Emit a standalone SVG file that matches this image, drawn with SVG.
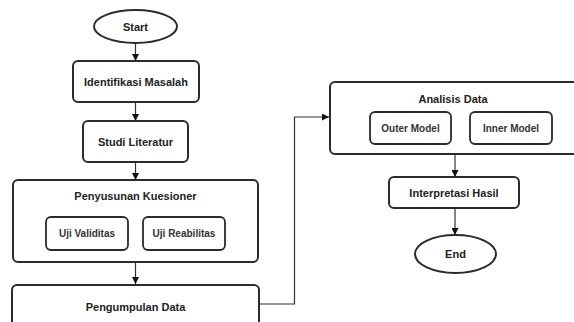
<svg xmlns="http://www.w3.org/2000/svg" width="574" height="322" viewBox="0 0 574 322">
<defs>
<style>
.n{fill:#fff;stroke:#2b2b2b;stroke-width:2}
.s{fill:#fff;stroke:#2b2b2b;stroke-width:1.8}
.t{font-family:"Liberation Sans",Arial,sans-serif;font-weight:bold;font-size:11px;fill:#222;text-anchor:middle}
.ts{font-family:"Liberation Sans",Arial,sans-serif;font-weight:bold;font-size:10px;fill:#333;text-anchor:middle}
.c{fill:none;stroke:#333;stroke-width:1.2}
</style>
<marker id="a" viewBox="0 0 10 10" refX="10" refY="5" markerWidth="7" markerHeight="7" markerUnits="userSpaceOnUse" orient="auto">
<path d="M0,0 L10,5 L0,10 z" fill="#111"/>
</marker>
</defs>
<rect width="574" height="322" fill="#fff"/>
<g id="connectors">
<line class="c" x1="135.5" y1="43" x2="135.5" y2="61" marker-end="url(#a)"/>
<line class="c" x1="135.5" y1="102" x2="135.5" y2="121" marker-end="url(#a)"/>
<line class="c" x1="135.5" y1="162" x2="135.5" y2="180" marker-end="url(#a)"/>
<line class="c" x1="135.5" y1="262" x2="135.5" y2="284" marker-end="url(#a)"/>
<polyline class="c" points="259,304 294.5,304 294.5,117 329,117" marker-end="url(#a)"/>
<line class="c" x1="455" y1="154" x2="455" y2="177" marker-end="url(#a)"/>
<line class="c" x1="455" y1="208" x2="455" y2="235" marker-end="url(#a)"/>
</g>
<g id="start">
<ellipse class="n" cx="135.5" cy="26.5" rx="41.5" ry="16.5"/>
<text class="t" x="135.5" y="30.5">Start</text>
</g>
<g id="identifikasi">
<rect class="n" x="73" y="61" width="126" height="41" rx="5"/>
<text class="t" x="136" y="85.5">Identifikasi Masalah</text>
</g>
<g id="studi">
<rect class="n" x="83" y="121" width="105" height="41" rx="5"/>
<text class="t" x="135.5" y="146">Studi Literatur</text>
</g>
<g id="penyusunan">
<rect class="n" x="13" y="180" width="245" height="82" rx="5"/>
<text class="t" x="135.5" y="200">Penyusunan Kuesioner</text>
</g>
<g id="validitas">
<rect class="s" x="46" y="217" width="82" height="33" rx="5"/>
<text class="ts" x="87" y="237">Uji Validitas</text>
</g>
<g id="reabilitas">
<rect class="s" x="143" y="217" width="82" height="33" rx="5"/>
<text class="ts" x="184" y="237">Uji Reabilitas</text>
</g>
<g id="pengumpulan">
<rect class="n" x="12" y="285" width="247" height="60" rx="5"/>
<text class="t" x="135.5" y="311">Pengumpulan Data</text>
</g>
<g id="analisis">
<rect class="n" x="330" y="82" width="260" height="72" rx="5"/>
<text class="t" x="453" y="103">Analisis Data</text>
</g>
<g id="outer">
<rect class="s" x="370" y="112" width="81" height="32" rx="5"/>
<text class="ts" x="410.5" y="131.5">Outer Model</text>
</g>
<g id="inner">
<rect class="s" x="470" y="112" width="82" height="32" rx="5"/>
<text class="ts" x="511" y="131.5">Inner Model</text>
</g>
<g id="interpretasi">
<rect class="n" x="389" y="177" width="130" height="31" rx="5"/>
<text class="t" x="454" y="197">Interpretasi Hasil</text>
</g>
<g id="end">
<ellipse class="n" cx="455.5" cy="254" rx="40.5" ry="19"/>
<text class="t" x="455.5" y="258">End</text>
</g>
</svg>
